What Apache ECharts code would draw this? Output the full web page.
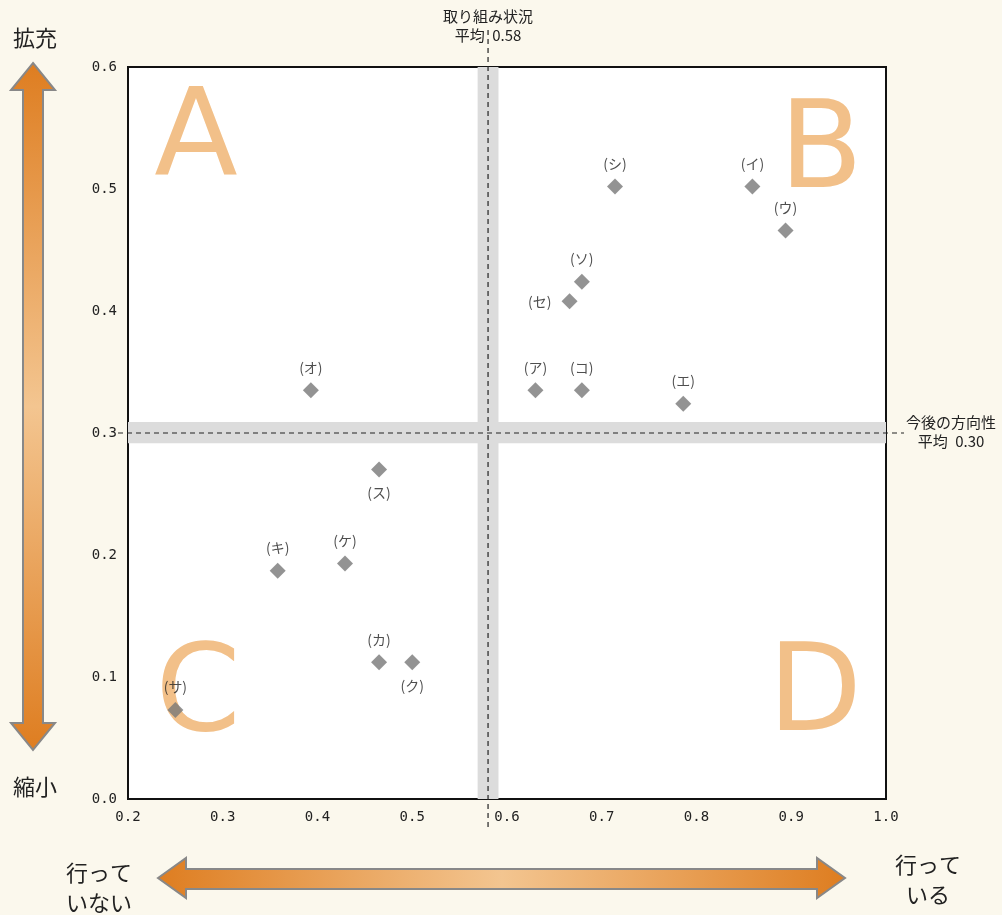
<!DOCTYPE html>
<html>
<head>
<meta charset="utf-8">
<script src="https://cdn.jsdelivr.net/npm/echarts@6/dist/echarts.min.js"></script>
<style>
  html, body { margin: 0; padding: 0; background: #fbf8ed; }
  #chart { width: 1002px; height: 915px; }
</style>
</head>
<body>
<div id="chart"></div>
<script>
// 項目名と値
const names = ['(ア)','(イ)','(ウ)','(エ)','(オ)','(カ)','(キ)','(ク)','(ケ)','(コ)','(サ)','(シ)','(ス)','(セ)','(ソ)'];
const xValues = [0.630, 0.859, 0.894, 0.786, 0.393, 0.465, 0.358, 0.500, 0.429, 0.679, 0.250, 0.714, 0.465, 0.666, 0.679];
const yValues = [0.335, 0.502, 0.466, 0.324, 0.335, 0.112, 0.187, 0.112, 0.193, 0.335, 0.073, 0.502, 0.270, 0.408, 0.424];
const labelPos = ['top','top','top','top','top','top','top','bottom','top','top','top','top','bottom','left','top'];
// 軸の目盛
const xTicks = [0.2, 0.3, 0.4, 0.5, 0.6, 0.7, 0.8, 0.9, 1.0];
const yTicks = [0.0, 0.1, 0.2, 0.3, 0.4, 0.5, 0.6];
// 平均値
const meanX = 0.58;
const meanY = 0.30;

const chart = echarts.init(document.getElementById('chart'));
const cjk = '"Noto Sans CJK JP", "Noto Sans", sans-serif';
const mono = '"DejaVu Sans Mono", monospace';
const letterColor = '#f2c089';

const arrowGrad = (x2, y2) => new echarts.graphic.LinearGradient(0, 0, x2, y2, [
  {offset: 0, color: '#de7d20'},
  {offset: 0.5, color: '#f3c590'},
  {offset: 1, color: '#de7d20'}
]);

chart.setOption({
  backgroundColor: '#fbf8ed',
  animation: false,
  grid: {
    left: 128, right: 116, top: 67, bottom: 116,
    show: true, backgroundColor: '#fff', borderColor: '#111', borderWidth: 2
  },
  xAxis: {
    type: 'value', min: xTicks[0], max: xTicks[xTicks.length - 1], interval: 0.1,
    axisLine: {show: false}, axisTick: {show: false}, splitLine: {show: false},
    axisLabel: {margin: 11, fontFamily: mono, fontSize: 14, color: '#222',
      formatter: v => v.toFixed(1)}
  },
  yAxis: {
    type: 'value', min: yTicks[0], max: yTicks[yTicks.length - 1], interval: 0.1,
    axisLine: {show: false}, axisTick: {show: false}, splitLine: {show: false},
    axisLabel: {margin: 11, fontFamily: mono, fontSize: 14, color: '#222',
      formatter: v => v.toFixed(1)}
  },
  series: [{
    type: 'scatter',
    symbol: 'diamond',
    symbolSize: 16,
    itemStyle: {color: '#787878'},
    data: xValues.map((x, i) => ({
      value: [x, yValues[i]],
      label: {position: labelPos[i], distance: labelPos[i] === 'left' ? 10 : 8}
    })),
    label: {
      show: true,
      formatter: p => names[p.dataIndex],
      fontFamily: cjk, fontSize: 14, color: '#222'
    },
    markArea: {
      silent: true,
      itemStyle: {color: '#dcdcdc'},
      data: [
        [{xAxis: 0.569}, {xAxis: 0.591}],
        [{yAxis: 0.2915}, {yAxis: 0.309}]
      ]
    }
  }]
});

// 平均線の位置をスケールから取得
const p = chart.convertToPixel({gridIndex: 0}, [meanX, meanY]);
const pTop = chart.convertToPixel({gridIndex: 0}, [xTicks[0], yTicks[yTicks.length - 1]]);
const pBot = chart.convertToPixel({gridIndex: 0}, [xTicks[xTicks.length - 1], yTicks[0]]);

const letter = (t, x, y) => ({
  type: 'text', z: 1, x: x, y: y,
  style: {text: t, fill: letterColor, font: '122px "DejaVu Sans", sans-serif', align: 'center', verticalAlign: 'middle'}
});
const label = (t, x, y, size) => ({
  type: 'text', z: 20, x: x, y: y,
  style: {text: t, fill: '#222', font: size + 'px ' + cjk, align: 'center', verticalAlign: 'middle', lineHeight: size + 4}
});

chart.setOption({
  graphic: [
    letter('A', 196, 143),
    letter('B', 821, 155),
    letter('C', 198, 698),
    letter('D', 815, 698),
    // 平均線（破線）
    {type: 'line', z: 10, shape: {x1: p[0], y1: pTop[1] - 37, x2: p[0], y2: pBot[1] + 32},
      style: {stroke: '#222', lineWidth: 1.2, lineDash: [5, 4]}},
    {type: 'line', z: 10, shape: {x1: pTop[0] - 10, y1: p[1], x2: pBot[0] + 18, y2: p[1]},
      style: {stroke: '#222', lineWidth: 1.2, lineDash: [5, 4]}},
    label('取り組み状況\n平均\u2002' + meanX.toFixed(2), p[0], 26, 15),
    label('今後の方向性\n平均\u2002' + meanY.toFixed(2), 951, p[1] - 1, 15),
    // 縦矢印
    {type: 'polygon', z: 5,
      shape: {points: [[33,63],[55,90],[43,90],[43,723],[55,723],[33,750],[11,723],[23,723],[23,90],[11,90]]},
      style: {fill: arrowGrad(0, 1), stroke: '#888', lineWidth: 2}},
    // 横矢印
    {type: 'polygon', z: 5,
      shape: {points: [[158,878],[186,858],[186,869],[817,869],[817,858],[845,878],[817,898],[817,889],[186,889],[186,898]]},
      style: {fill: arrowGrad(1, 0), stroke: '#888', lineWidth: 2}},
    label('拡充', 35, 38, 22),
    label('縮小', 35, 787, 22),
    {type: 'text', z: 20, x: 99, y: 888,
      style: {text: '行って\nいない', fill: '#222', font: '22px ' + cjk, align: 'center', verticalAlign: 'middle', lineHeight: 30}},
    {type: 'text', z: 20, x: 928, y: 880,
      style: {text: '行って\nいる', fill: '#222', font: '22px ' + cjk, align: 'center', verticalAlign: 'middle', lineHeight: 30}}
  ]
});
</script>
</body>
</html>
